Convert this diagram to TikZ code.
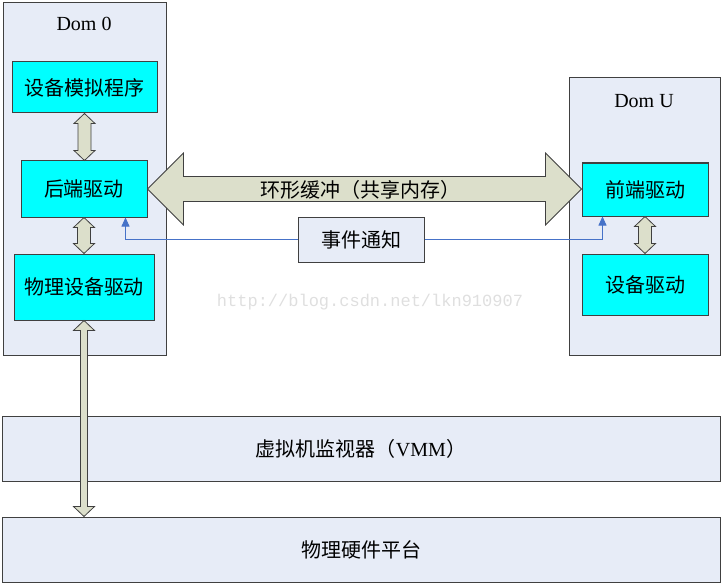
\documentclass[tikz,border=0pt]{standalone}
\usepackage{fontspec}
\setmainfont{Liberation Serif}
\setmonofont{Liberation Mono}
\newfontfamily\cjk{Noto Sans CJK SC}
\usetikzlibrary{calc,arrows.meta}

\definecolor{boxBlue}{RGB}{231,236,247}
\definecolor{boxCyan}{RGB}{0,255,255}
\definecolor{boxLine}{RGB}{64,64,64}
\definecolor{arrowFill}{RGB}{220,223,203}
\definecolor{eventBlue}{RGB}{70,114,200}

%% vertical block arrow: from, to, shaft half width, head half width, head length
\newcommand\vArrow[5]{%
  \path[arrowDecorate] let \p1=(#1), \p2=(#2) in
    (\x1,\y1) -- ({\x1+#4pt},{\y1-#5pt}) -- ({\x1+#3pt},{\y1-#5pt})
    -- ({\x1+#3pt},{\y2+#5pt}) -- ({\x1+#4pt},{\y2+#5pt}) -- (\x1,\y2)
    -- ({\x1-#4pt},{\y2+#5pt}) -- ({\x1-#3pt},{\y2+#5pt})
    -- ({\x1-#3pt},{\y1-#5pt}) -- ({\x1-#4pt},{\y1-#5pt}) -- cycle;}
%% horizontal block arrow, same arguments
\newcommand\hArrow[5]{%
  \path[arrowDecorate] let \p1=(#1), \p2=(#2) in
    (\x1,\y1) -- ({\x1+#5pt},{\y1+#4pt}) -- ({\x1+#5pt},{\y1+#3pt})
    -- ({\x2-#5pt},{\y1+#3pt}) -- ({\x2-#5pt},{\y1+#4pt}) -- (\x2,\y1)
    -- ({\x2-#5pt},{\y1-#4pt}) -- ({\x2-#5pt},{\y1-#3pt})
    -- ({\x1+#5pt},{\y1-#3pt}) -- ({\x1+#5pt},{\y1-#4pt}) -- cycle;}

\begin{document}
\begin{tikzpicture}
[x=1pt,y=-1pt,
  domDecorate/.style={draw=boxLine,fill=boxBlue,line width=1pt,inner sep=0pt},%
  partDecorate/.style={draw=boxLine,fill=boxCyan,line width=1pt,inner sep=0pt,font=\cjk\fontsize{20}{24}\selectfont},%
  cjkText/.style={font=\cjk\fontsize{20}{24}\selectfont},%
  arrowDecorate/.style={draw=boxLine,fill=arrowFill,line width=0.8pt},%
  lineDecorate/.style={draw=eventBlue,line width=0.8pt,-{Triangle[length=9pt,width=8pt]}},
  font=\fontsize{20}{24}\selectfont]
\useasboundingbox (0,0) rectangle (724,586);
%% domains and layers
\foreach \nodename/\x/\y/\w/\h in {
  dom0/84.5/179/163/352, domU/644.5/216.5/151/277}
{
  \node (\nodename) at (\x,\y) [domDecorate,minimum width=\w pt,minimum height=\h pt] {};
}
\node (dom0Label) at (84,24) {Dom 0};
\node (domULabel) at (644,101) {Dom U};
\node (vmm) at (361,448.5) [domDecorate,minimum width=718pt,minimum height=65pt]
  {{\cjk 虚拟机监视器（}VMM{\cjk ）}};
\node (hw) at (361,549.5) [domDecorate,cjkText,minimum width=718pt,minimum height=65pt]
  {物理硬件平台};
%% drivers
\foreach \nodename/\x/\y/\w/\h/\text in {
  emu/84.5/87.5/145/51/设备模拟程序, back/84/189/126/56/后端驱动,
  phys/84/287/140/66/物理设备驱动, front/645/189.5/126/53/前端驱动,
  drv/645/284.5/126/61/设备驱动}
{
  \node (\nodename) at (\x,\y) [partDecorate,minimum width=\w pt,minimum height=\h pt] {\text};
}
\node (event) at (361,239.5) [domDecorate,cjkText,minimum width=126pt,minimum height=45pt] {事件通知};
%% event lines
\draw[lineDecorate] (event.west) -| ([xshift=-22pt]back.south east);
\draw[lineDecorate] (event.east) -| ([xshift=21pt]front.south west);
%% block arrows
\vArrow{emu.south}{back.north}{6.5}{10.5}{10}
\vArrow{back.south}{phys.north}{6.5}{10.5}{10}
\vArrow{front.south}{drv.north}{6.5}{10.5}{10}
\vArrow{phys.south}{hw.north}{3.5}{10.5}{10}
\hArrow{back.east}{front.west}{12.5}{36}{36}
\node (ring) at (360,189.5) [cjkText] {环形缓冲（共享内存）};
%% watermark
\node (mark) at (370,302) [font=\ttfamily\fontsize{17}{20}\selectfont,text=gray!25]
  {http://blog.csdn.net/lkn910907};
\end{tikzpicture}
\end{document}
